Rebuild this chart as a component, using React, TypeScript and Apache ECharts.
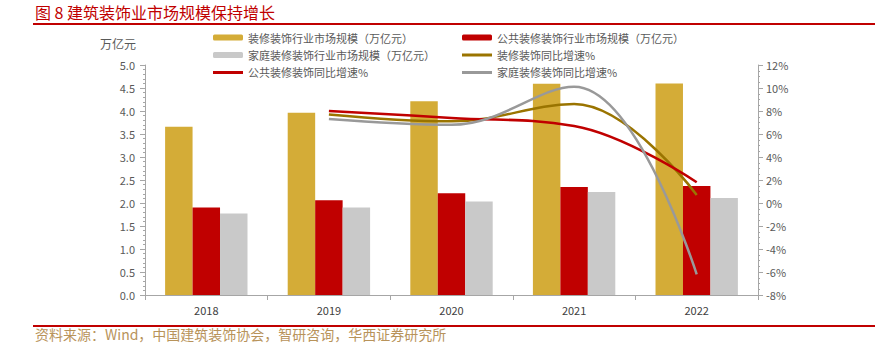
import React, { useEffect, useRef } from "react";
import * as echarts from "echarts";

const categories = ["2018", "2019", "2020", "2021", "2022"];
const totalScale = [3.66, 3.96, 4.21, 4.59, 4.6];
const publicScale = [1.9, 2.06, 2.21, 2.35, 2.37];
const homeScale = [1.77, 1.9, 2.03, 2.24, 2.11];
const totalGrowth = [null, 7.7, 7.1, 8.6, 0.7];
const publicGrowth = [null, 8.0, 7.4, 6.7, 1.8];
const homeGrowth = [null, 7.3, 6.8, 10.1, -6.2];

const names = [
  "装修装饰行业市场规模（万亿元）",
  "公共装修装饰行业市场规模（万亿元）",
  "家庭装修装饰行业市场规模（万亿元）",
  "装修装饰同比增速%",
  "公共装修装饰同比增速%",
  "家庭装修装饰同比增速%",
];

const FONT = "Noto Sans CJK SC";
const LINE_ICON = "path://M0,0L30,0L30,3L0,3Z";

export default function App() {
  const ref = useRef<HTMLDivElement>(null);
  useEffect(() => {
    if (!ref.current) return;
    const chart = echarts.init(ref.current, undefined, { renderer: "svg" });
    const legendText = { color: "#595959", fontSize: 11, fontFamily: FONT };
    chart.setOption({
      animation: false,
      textStyle: { fontFamily: FONT },
      graphic: [
        {
          type: "text",
          left: 35,
          top: 4,
          style: { text: "图 8 建筑装饰业市场规模保持增长", fill: "#c00000", fontSize: 16, fontFamily: FONT },
        },
        { type: "rect", shape: { x: 33, y: 23, width: 842, height: 2 }, style: { fill: "#c00000" } },
        { type: "rect", shape: { x: 33, y: 325, width: 842, height: 2 }, style: { fill: "#c00000" } },
        {
          type: "text",
          left: 35,
          top: 327,
          style: {
            text: "资料来源：Wind，中国建筑装饰协会，智研咨询，华西证券研究所",
            fill: "#b8935a",
            fontSize: 14,
            fontFamily: FONT,
          },
        },
        {
          type: "text",
          left: 100,
          top: 37,
          style: { text: "万亿元", fill: "#595959", fontSize: 12, fontFamily: FONT },
        },
      ],
      legend: [
        {
          orient: "vertical",
          left: 208,
          top: 27,
          itemWidth: 30,
          itemHeight: 6,
          itemGap: 6.5,
          textStyle: legendText,
          data: [names[0], names[2], { name: names[4], icon: LINE_ICON }],
        },
        {
          orient: "vertical",
          left: 457,
          top: 27,
          itemWidth: 30,
          itemHeight: 6,
          itemGap: 6.5,
          textStyle: legendText,
          data: [names[1], { name: names[3], icon: LINE_ICON }, { name: names[5], icon: LINE_ICON }],
        },
      ],
      grid: { left: 145, right: 117, top: 65, bottom: 59 },
      xAxis: {
        type: "category",
        data: categories,
        axisLine: { lineStyle: { color: "#a6a6a6" } },
        axisTick: { show: true, lineStyle: { color: "#a6a6a6" } },
        axisLabel: { color: "#404040", fontSize: 11, margin: 9 },
      },
      yAxis: [
        {
          type: "value",
          min: 0,
          max: 5,
          interval: 0.5,
          axisLine: { show: true, lineStyle: { color: "#a6a6a6" } },
          axisTick: { show: true, lineStyle: { color: "#a6a6a6" } },
          minorTick: { show: true, splitNumber: 5, length: 2, lineStyle: { color: "#a6a6a6" } },
          splitLine: { show: false },
          axisLabel: { color: "#595959", fontSize: 11, formatter: (v: number) => v.toFixed(1), margin: 10 },
        },
        {
          type: "value",
          min: -8,
          max: 12,
          interval: 2,
          position: "right",
          axisLine: { show: true, lineStyle: { color: "#a6a6a6" } },
          axisTick: { show: true, lineStyle: { color: "#a6a6a6" } },
          minorTick: { show: true, splitNumber: 4, length: 2, lineStyle: { color: "#a6a6a6" } },
          splitLine: { show: false },
          axisLabel: { color: "#595959", fontSize: 11, formatter: "{value}%", margin: 8 },
        },
      ],
      series: [
        { name: names[0], type: "bar", data: totalScale, barWidth: "22.4%", barGap: "0%", itemStyle: { color: "#d4ac37" } },
        { name: names[1], type: "bar", data: publicScale, barWidth: "22.4%", barGap: "0%", itemStyle: { color: "#c00000" } },
        { name: names[2], type: "bar", data: homeScale, barWidth: "22.4%", barGap: "0%", itemStyle: { color: "#c9c9c9" } },
        {
          name: names[3],
          type: "line",
          yAxisIndex: 1,
          data: totalGrowth,
          smooth: 0.4,
          symbol: "none",
          lineStyle: { color: "#9a7400", width: 2.5 },
          itemStyle: { color: "#9a7400" },
          z: 5,
        },
        {
          name: names[4],
          type: "line",
          yAxisIndex: 1,
          data: publicGrowth,
          smooth: 0.4,
          symbol: "none",
          lineStyle: { color: "#c00000", width: 2.5 },
          itemStyle: { color: "#c00000" },
          z: 5,
        },
        {
          name: names[5],
          type: "line",
          yAxisIndex: 1,
          data: homeGrowth,
          smooth: 0.4,
          symbol: "none",
          lineStyle: { color: "#999999", width: 2.5 },
          itemStyle: { color: "#999999" },
          z: 5,
        },
      ],
    });
    return () => chart.dispose();
  }, []);
  return <div ref={ref} style={{ width: 875, height: 354, position: "absolute", left: 0, top: 0 }} />;
}
